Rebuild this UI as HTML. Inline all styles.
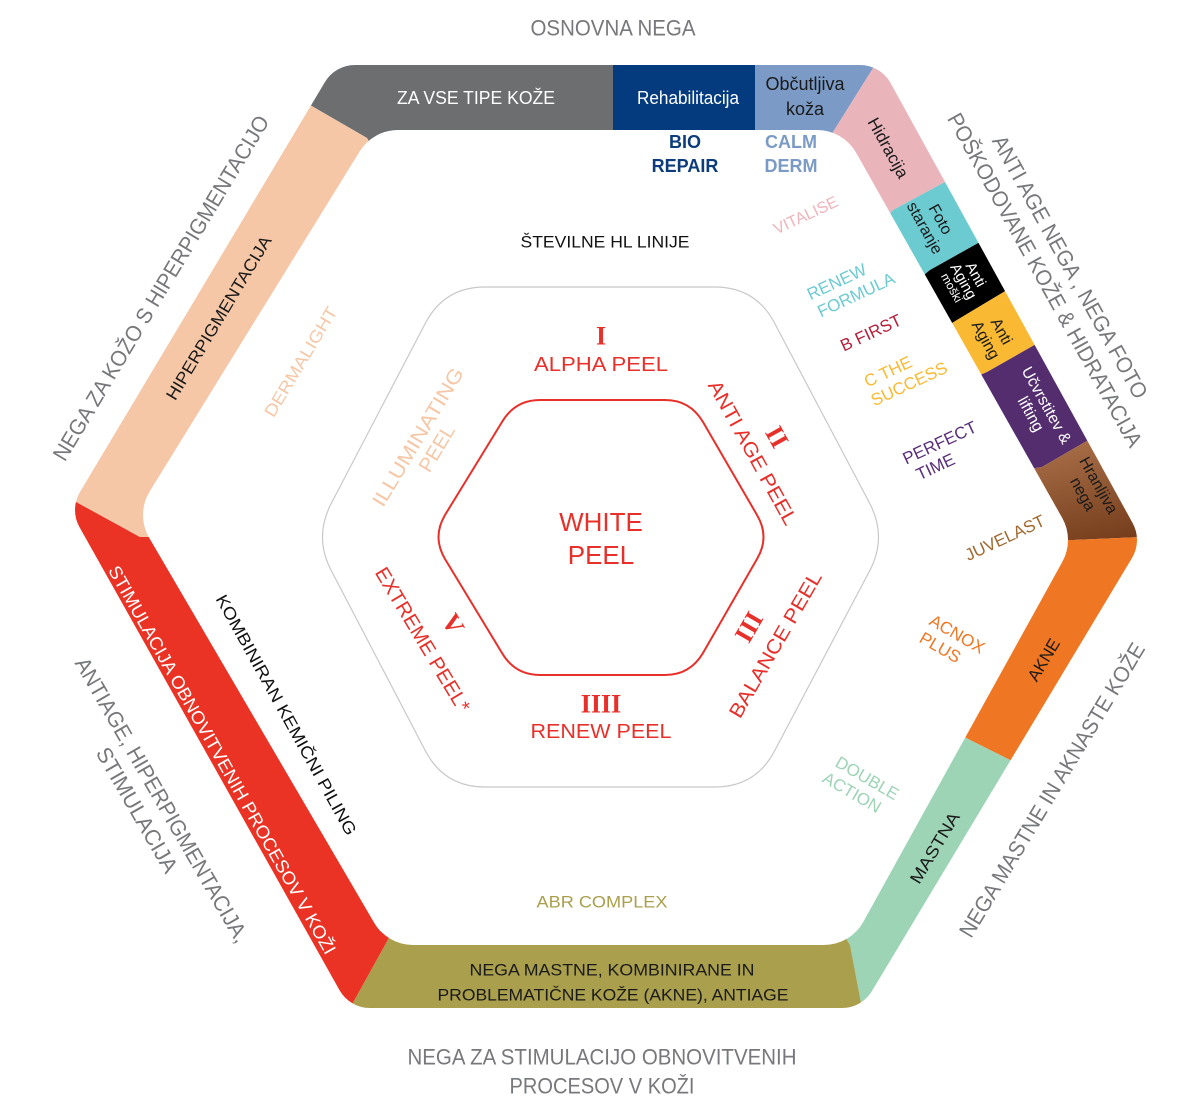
<!DOCTYPE html>
<html><head><meta charset="utf-8"><style>
html,body{margin:0;padding:0;background:#fff;}
svg{display:block;}
text{font-family:"Liberation Sans Narrow","Liberation Sans",sans-serif;}
.s{font-family:"Liberation Serif",serif;font-weight:bold;}
</style></head><body>
<svg width="1200" height="1110" viewBox="0 0 1200 1110" xmlns="http://www.w3.org/2000/svg">
<defs>
<mask id="om">
<polygon points="355,100 860,100 1102,540 842,973 370,973 110,510" fill="#fff" stroke="#fff" stroke-width="70" stroke-linejoin="round"/>
</mask>
<linearGradient id="br" x1="0" y1="0" x2="1" y2="1">
<stop offset="0" stop-color="#e2a97c"/><stop offset="1" stop-color="#6e3515"/>
</linearGradient>
</defs>
<g mask="url(#om)">
<polygon fill="#6d6e70" points="605,537 367,138 253,72 300,-20 613,-20 613,135"/>
<polygon fill="#033b7e" points="605,537 613,135 613,-20 755,-20 755,135"/>
<polygon fill="#7b9bc6" points="605,537 755,135 755,-20 907,14 833,132"/>
<polygon fill="#e9b5bb" points="605,537 833,132 907,14 960,20 997,154 893,210"/>
<polygon fill="#6ccbd1" points="605,537 893,210 997,154 1030,214 930,270"/>
<polygon fill="#000" points="605,537 930,270 1030,214 1047,266 957,320"/>
<polygon fill="#f9b933" points="605,537 957,320 1047,266 1089,314 987,372"/>
<polygon fill="#542d6e" points="605,537 987,372 1089,314 1142,409 1042,467"/>
<polygon fill="url(#br)" points="605,537 1042,467 1142,409 1207,534 1073,540"/>
<polygon fill="#ef7622" points="605,537 1073,540 1207,534 1200,600 1070,790 970,740"/>
<polygon fill="#9dd4b6" points="605,537 970,740 1070,790 930,1090 874,1071 850,945"/>
<polygon fill="#a99f4c" points="605,537 850,945 874,1071 315,1071 385,945"/>
<polygon fill="#ea3325" points="605,537 385,945 315,1071 250,1080 -20,520 16,469 140,537"/>
<polygon fill="#f5c7a6" points="605,537 140,537 16,469 253,72 367,138"/>
</g>
<polygon points="398,175 817,175 1023,540 824,900 413,900 188,515" fill="#fff" stroke="#fff" stroke-width="90" stroke-linejoin="round"/>

<path d="M485,287 L715,287 Q755,287 774,322 L869,502 Q888,537 869,572 L774,752 Q755,787 715,787 L485,787 Q445,787 426,752 L332,572 Q313,537 332,502 L426,322 Q445,287 485,287 Z" fill="none" stroke="#c8c8c8" stroke-width="1.2"/>
<path d="M540,400 L665,400 Q690,400 703,422 L757,515 Q770,537 757,559 L703,653 Q690,675 665,675 L540,675 Q515,675 502,653 L445,559 Q432,537 445,515 L502,422 Q515,400 540,400 Z" fill="none" stroke="#e8302a" stroke-width="2"/>

<g dominant-baseline="central" text-anchor="middle">
<text x="613" y="28" font-size="22" fill="#77787b" textLength="165" lengthAdjust="spacingAndGlyphs">OSNOVNA NEGA</text>
<text x="602" y="1057" font-size="22" fill="#77787b" textLength="389" lengthAdjust="spacingAndGlyphs">NEGA ZA STIMULACIJO OBNOVITVENIH</text>
<text x="602" y="1086" font-size="22" fill="#77787b" textLength="185" lengthAdjust="spacingAndGlyphs">PROCESOV V KOŽI</text>
<text transform="translate(161,288) rotate(-59)" font-size="22" fill="#77787b" textLength="398" lengthAdjust="spacingAndGlyphs">NEGA ZA KOŽO S HIPERPIGMENTACIJO</text>
<text transform="translate(1070,267) rotate(61)" font-size="22" fill="#77787b" textLength="297" lengthAdjust="spacingAndGlyphs">ANTI AGE NEGA , NEGA FOTO</text>
<text transform="translate(1045,280) rotate(61)" font-size="22" fill="#77787b" textLength="378" lengthAdjust="spacingAndGlyphs">POŠKODOVANE KOŽE &amp; HIDRATACIJA</text>
<text transform="translate(1052,790) rotate(-59)" font-size="22" fill="#77787b" textLength="339" lengthAdjust="spacingAndGlyphs">NEGA MASTNE IN AKNASTE KOŽE</text>
<text transform="translate(162,800) rotate(60)" font-size="22" fill="#77787b" textLength="325" lengthAdjust="spacingAndGlyphs">ANTIAGE, HIPERPIGMENTACIJA,</text>
<text transform="translate(137,810) rotate(60)" font-size="22" fill="#77787b" textLength="141" lengthAdjust="spacingAndGlyphs">STIMULACIJA</text>

<text x="476" y="98" font-size="18" fill="#fff" textLength="158" lengthAdjust="spacingAndGlyphs">ZA VSE TIPE KOŽE</text>
<text x="688" y="98" font-size="18" fill="#fff" textLength="102" lengthAdjust="spacingAndGlyphs">Rehabilitacija</text>
<text x="805" y="84" font-size="18" fill="#1a1a1a">Občutljiva</text>
<text x="805" y="109" font-size="18" fill="#1a1a1a">koža</text>
<text transform="translate(888,148) rotate(61)" font-size="17" fill="#1a1a1a">Hidracija</text>
<g transform="translate(932,224) rotate(61)" font-size="16" fill="#1a1a1a"><text y="-9">Foto</text><text y="9">staranje</text></g>
<g transform="translate(964,281) rotate(61)" fill="#fff"><text y="-13" font-size="15">Anti</text><text y="1" font-size="15">Aging</text><text y="14" font-size="12">moški</text></g>
<g transform="translate(993,336) rotate(61)" font-size="16" fill="#1a1a1a"><text y="-9">Anti</text><text y="9">Aging</text></g>
<g transform="translate(1038,410) rotate(61)" font-size="16" fill="#fff"><text y="-9">Učvrstitev &amp;</text><text y="9">lifting</text></g>
<g transform="translate(1090,490) rotate(61)" font-size="16" fill="#1a1a1a"><text y="-9">Hranljiva</text><text y="9">nega</text></g>
<text transform="translate(1044,660) rotate(-59)" font-size="17" fill="#1a1a1a">AKNE</text>
<text transform="translate(935,848) rotate(-59)" font-size="17" fill="#1a1a1a" textLength="80" lengthAdjust="spacingAndGlyphs">MASTNA</text>
<text x="612" y="970" font-size="17" fill="#1a1a1a" textLength="285" lengthAdjust="spacingAndGlyphs">NEGA MASTNE, KOMBINIRANE IN</text>
<text x="613" y="995" font-size="17" fill="#1a1a1a" textLength="351" lengthAdjust="spacingAndGlyphs">PROBLEMATIČNE KOŽE (AKNE), ANTIAGE</text>
<text transform="translate(222,760) rotate(60.5)" font-size="18" fill="#fff" textLength="443" lengthAdjust="spacingAndGlyphs">STIMULACIJA OBNOVITVENIH PROCESOV V KOŽI</text>
<text transform="translate(219,318) rotate(-59)" font-size="17" fill="#1a1a1a" textLength="188" lengthAdjust="spacingAndGlyphs">HIPERPIGMENTACIJA</text>

<text x="685" y="142" font-size="18" font-weight="bold" fill="#0d3c7c">BIO</text>
<text x="685" y="166" font-size="18" font-weight="bold" fill="#0d3c7c">REPAIR</text>
<text x="791" y="142" font-size="18" font-weight="bold" fill="#7b9bc6">CALM</text>
<text x="791" y="166" font-size="18" font-weight="bold" fill="#7b9bc6">DERM</text>
<text x="605" y="242" font-size="17" fill="#111" textLength="169" lengthAdjust="spacingAndGlyphs">ŠTEVILNE HL LINIJE</text>
<text transform="translate(806,216) rotate(-25)" font-size="16" fill="#eeb4bb">VITALISE</text>
<g transform="translate(852,286) rotate(-25)" font-size="17" fill="#6ccbd1"><text x="-12" y="-10">RENEW</text><text y="10">FORMULA</text></g>
<text transform="translate(871,333) rotate(-25)" font-size="17" fill="#b51f3a">B FIRST</text>
<g transform="translate(905,375) rotate(-25)" font-size="17" fill="#f9b933"><text x="-14" y="-10">C THE</text><text y="10">SUCCESS</text></g>
<g transform="translate(944,452) rotate(-25)" font-size="17" fill="#5a2e7a"><text y="-10">PERFECT</text><text x="-14" y="10">TIME</text></g>
<text transform="translate(1005,538) rotate(-25)" font-size="17" fill="#a0692f">JUVELAST</text>
<g transform="translate(952,643) rotate(30)" font-size="17" fill="#ef7622"><text y="-10">ACNOX</text><text x="-8" y="10">PLUS</text></g>
<g transform="translate(862,787) rotate(30)" font-size="17" fill="#9dd4b6"><text y="-10">DOUBLE</text><text x="-6" y="10">ACTION</text></g>
<text x="602" y="902" font-size="17" fill="#a99f4c" textLength="131" lengthAdjust="spacingAndGlyphs">ABR COMPLEX</text>
<text transform="translate(286,715) rotate(61)" font-size="17" fill="#111" textLength="272" lengthAdjust="spacingAndGlyphs">KOMBINIRAN KEMIČNI PILING</text>
<text transform="translate(301,362) rotate(-59)" font-size="17" fill="#f5c7a6" textLength="125" lengthAdjust="spacingAndGlyphs">DERMALIGHT</text>
<g transform="translate(428,443) rotate(-59)" font-size="20" fill="#f5c7a6"><text y="-11" textLength="158" lengthAdjust="spacingAndGlyphs">ILLUMINATING</text><text y="11">PEEL</text></g>

<text class="s" x="601" y="336" font-size="26" fill="#e8302a">I</text>
<text x="601" y="365" font-size="20" fill="#e8302a" textLength="134" lengthAdjust="spacingAndGlyphs">ALPHA PEEL</text>
<text transform="translate(752,453) rotate(61)" font-size="20" fill="#e8302a" textLength="162" lengthAdjust="spacingAndGlyphs">ANTI AGE PEEL</text>
<text class="s" transform="translate(777,437) rotate(61)" font-size="26" fill="#e8302a">II</text>
<text transform="translate(776,645) rotate(-60)" font-size="20" fill="#e8302a" textLength="165" lengthAdjust="spacingAndGlyphs">BALANCE PEEL</text>
<text class="s" transform="translate(749,627) rotate(-60)" font-size="26" fill="#e8302a">III</text>
<text class="s" x="601" y="704" font-size="26" fill="#e8302a">IIII</text>
<text x="601" y="732" font-size="20" fill="#e8302a" textLength="141" lengthAdjust="spacingAndGlyphs">RENEW PEEL</text>
<text transform="translate(422,640) rotate(59)" font-size="20" fill="#e8302a" textLength="165" lengthAdjust="spacingAndGlyphs">EXTREME PEEL*</text>
<text class="s" transform="translate(453,624) rotate(59)" font-size="26" fill="#e8302a">V</text>
<text x="601" y="522" font-size="26" fill="#e8302a">WHITE</text>
<text x="601" y="555" font-size="26" fill="#e8302a">PEEL</text>
</g>
</svg>
</body></html>
